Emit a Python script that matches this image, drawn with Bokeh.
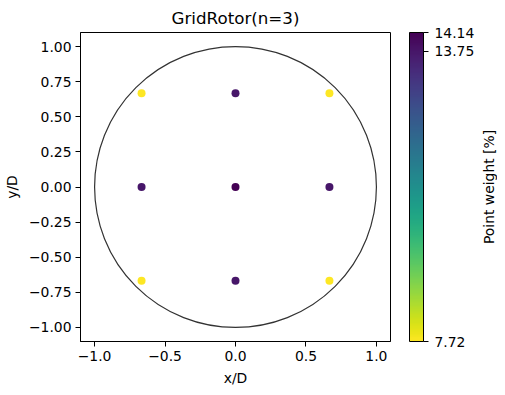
import numpy as np
from bokeh.plotting import figure
from bokeh.layouts import row
from bokeh.models import (LinearColorMapper, ColorBar, FixedTicker,
                          ColumnDataSource, Range1d)
from bokeh.palettes import Viridis256
from bokeh.embed import file_html
from bokeh.resources import INLINE

# Data
point_x = [-2/3, 0.0, 2/3, -2/3, 0.0, 2/3, -2/3, 0.0, 2/3]
point_y = [2/3, 2/3, 2/3, 0.0, 0.0, 0.0, -2/3, -2/3, -2/3]
point_weight = [7.72, 13.75, 7.72, 13.75, 14.14, 13.75, 7.72, 13.75, 7.72]
rotor_center = [0.0]
rotor_diameter = [2.0]
x_ticks = [-1.0, -0.5, 0.0, 0.5, 1.0]
y_ticks = [-1.0, -0.75, -0.5, -0.25, 0.0, 0.25, 0.5, 0.75, 1.0]
cbar_ticks = [7.72, 13.75, 14.14]

FONT = "DejaVu Sans"

p = figure(output_backend="svg", toolbar_location=None,
           frame_width=310, frame_height=309,
           x_range=Range1d(-1.1, 1.1), y_range=Range1d(-1.1, 1.1),
           title="GridRotor(n=3)", min_border_left=76, min_border_top=10,
           min_border_bottom=10, min_border_right=82)

p.title.align = "center"
p.title.text_font = FONT
p.title.text_font_size = "16.7px"
p.title.text_font_style = "normal"
p.title.text_color = "black"

p.grid.visible = False
p.outline_line_color = "black"
p.outline_line_width = 1
p.background_fill_color = "white"

def fmt(v, d):
    s = f"{v:.{d}f}"
    return s.replace("-", "\u2212")

p.xaxis.ticker = FixedTicker(ticks=x_ticks)
p.xaxis.major_label_overrides = {v: fmt(v, 1) for v in x_ticks}
p.yaxis.ticker = FixedTicker(ticks=y_ticks)
p.yaxis.major_label_overrides = {v: fmt(v, 2) for v in y_ticks}
p.xaxis.axis_label = "x/D"
p.yaxis.axis_label = "y/D"
for ax in [p.xaxis[0], p.yaxis[0]]:
    ax.major_label_text_font = FONT
    ax.major_label_text_font_size = "13.9px"
    ax.major_label_text_color = "black"
    ax.axis_label_text_font = FONT
    ax.axis_label_text_font_size = "13.9px"
    ax.axis_label_text_font_style = "normal"
    ax.axis_label_text_color = "black"
    ax.minor_tick_line_color = None
    ax.major_tick_out = 5
    ax.major_tick_in = 0
    ax.major_tick_line_color = "black"
    ax.axis_line_color = "black"
    ax.axis_label_standoff = 6
    ax.major_label_standoff = 4

# Rotor circle
p.ellipse(x=rotor_center, y=rotor_center, width=rotor_diameter, height=rotor_diameter,
          fill_color=None, line_color="#333333", line_width=1.2)

mapper = LinearColorMapper(palette=Viridis256[::-1], low=min(point_weight), high=max(point_weight))
src = ColumnDataSource(dict(x=point_x, y=point_y, w=point_weight))
p.scatter("x", "y", source=src, size=8, line_color=None,
          fill_color={"field": "w", "transform": mapper})

cb = ColorBar(color_mapper=mapper, ticker=FixedTicker(ticks=cbar_ticks),
              width=14, height=309, padding=0, margin=0,
              bar_line_color="black", bar_line_width=1,
              major_tick_in=0, major_tick_out=5, major_tick_line_color="black",
              major_label_text_font=FONT, major_label_text_font_size="13.9px",
              major_label_text_color="black", label_standoff=6,
              major_label_overrides={v: f"{v:.2f}" for v in cbar_ticks},
              location=(19, 0))
p.add_layout(cb, "right")

# Colorbar label in a narrow companion figure (reads bottom-to-top, centred)
p2 = figure(output_backend="svg", toolbar_location=None,
            frame_width=1, frame_height=309,
            x_range=Range1d(0, 1), y_range=Range1d(-1.1, 1.1),
            min_border_left=0, min_border_right=0, min_border_top=24, min_border_bottom=0)
p2.outline_line_color = None
p2.grid.visible = False
p2.xaxis.visible = False
ya = p2.yaxis[0]
ya.ticker = FixedTicker(ticks=[])
ya.axis_line_color = None
ya.major_tick_out = 0
ya.major_tick_in = 0
ya.minor_tick_line_color = None
ya.major_label_text_font_size = "0px"
ya.axis_label = "Point weight [%]"
ya.axis_label_text_font = FONT
ya.axis_label_text_font_size = "13.9px"
ya.axis_label_text_font_style = "normal"
ya.axis_label_text_color = "black"
ya.axis_label_standoff = 0

layout = row(p, p2)
open("out.html", "w").write(file_html(layout, INLINE))
